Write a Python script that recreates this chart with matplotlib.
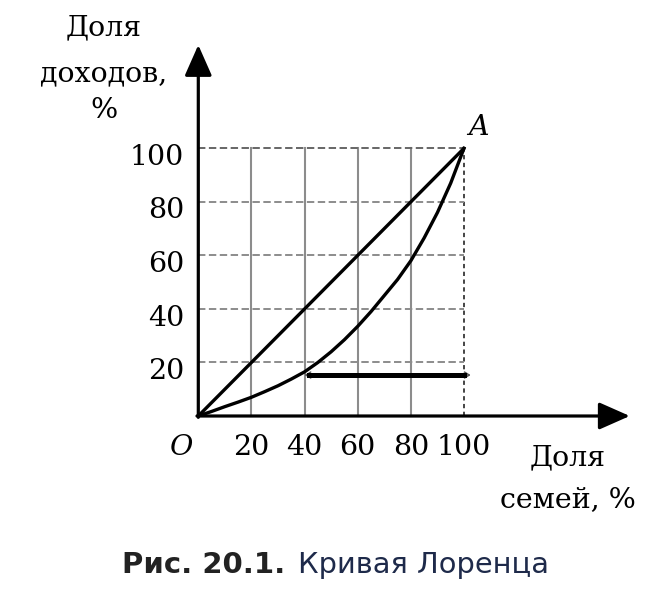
import matplotlib
matplotlib.use("Agg")
from matplotlib import pyplot as plt

# ── data ─────────────────────────────────────────────────────────────────────
grid_ticks = [20, 40, 60, 80, 100]
tick_labels = ["20", "40", "60", "80", "100"]

# line of equality O -> A
equal_x = [0, 100]
equal_y = [0, 100]

# Lorenz curve (share of families vs share of income, %)
lorenz_x = [0, 5, 10, 15, 20, 25, 30, 35, 40, 45, 50, 55, 60, 65, 70, 75, 80, 85, 90, 95, 100]
lorenz_y = [0, 1.7, 3.5, 5.2, 7, 9.1, 11.3, 13.8, 16.5, 20, 24, 28.5, 33.5, 39, 45, 51,
            58, 66.5, 76, 87, 100]

# thick horizontal bar (60% of families, ~15% of income)
bar_x = [40, 100]
bar_y = 15.3

# ── layout: map pixels of a 670x600 canvas to data units ──────────────────────
X0, Y0 = 198.3, 416.0      # origin in pixels
SX, SY = 2.657, 2.677      # pixels per percent
W, H = 670, 600

SERIF = ["DejaVu Serif"]
FS = 20.5
GRAY = "#8c8c8c"

fig = plt.figure(figsize=(W / 100, H / 100), dpi=100)
ax = fig.add_axes([0, 0, 1, 1])
ax.set_xlim(-X0 / SX, (W - X0) / SX)
ax.set_ylim((Y0 - H) / SY, Y0 / SY)
ax.axis("off")

# grid
for t in grid_ticks[:-1]:
    ax.plot([t, t], [0, 100], color=GRAY, lw=1.5, zorder=1)
ax.plot([100, 100], [0, 100], color="#444444", lw=1.4, ls=(0, (2.2, 1.8)), zorder=1)
for t in grid_ticks:
    ax.plot([0, 100], [t, t], color=GRAY if t < 100 else "#666666", lw=1.4,
            ls=(0, (3.8, 1.8)), zorder=1)

# axes with arrows
arrow = dict(arrowstyle="-|>,head_length=0.95,head_width=0.42", color="black",
             lw=2.3, mutation_scale=20, shrinkA=0, shrinkB=0)
ax.annotate("", xy=(162.4, 0), xytext=(-0.5, 0), arrowprops=arrow, zorder=4)
ax.annotate("", xy=(0, 138.6), xytext=(0, -0.5), arrowprops=arrow, zorder=4)

# curves
ax.plot(equal_x, equal_y, color="black", lw=2.4, zorder=3, solid_capstyle="round")
ax.plot(lorenz_x, lorenz_y, color="black", lw=2.4, zorder=3, solid_joinstyle="round")

# thick bar with small open heads
ax.plot([bar_x[0] + 1.5, bar_x[1]], [bar_y, bar_y], color="black", lw=3.6, zorder=3)
ax.annotate("", xy=(bar_x[1] + 2.5, bar_y), xytext=(bar_x[0], bar_y),
            arrowprops=dict(arrowstyle="<->,head_length=0.35,head_width=0.22",
                            color="#555555", lw=1.0, mutation_scale=10,
                            shrinkA=0, shrinkB=0), zorder=2)

# tick labels
for t, lab in zip(grid_ticks, tick_labels):
    ax.text(-5.4, t - 6.2, lab, ha="right", va="baseline", fontsize=FS, family=SERIF)
    ax.text(t, -14.6, lab, ha="center", va="baseline", fontsize=FS, family=SERIF)

ax.text(-6.2, -14.6, "O", ha="center", va="baseline", fontsize=FS, family=SERIF,
        style="italic")
ax.text(105.3, 105.0, "A", ha="center", va="baseline", fontsize=FS, family=SERIF,
        style="italic")

# axis titles
for txt, yb in [("Доля", 142.3), ("доходов,", 124.9), ("%", 111.3)]:
    ax.text(-35.5, yb, txt, ha="center", va="baseline", fontsize=FS, family=SERIF)
for txt, yb in [("Доля", -18.3), ("семей, %", -33.9)]:
    ax.text(139.1, yb, txt, ha="center", va="baseline", fontsize=FS, family=SERIF)

# caption
ax.text(-28.7, -58.6, "Рис. 20.1.", ha="left", va="baseline", fontsize=21,
        family=["DejaVu Sans"], weight="bold", color="#222222")
ax.text(37.5, -58.6, "Кривая Лоренца", ha="left", va="baseline", fontsize=20.8,
        family=["DejaVu Sans"], color="#1e2a4a")

fig.savefig("out.png", dpi=100)
